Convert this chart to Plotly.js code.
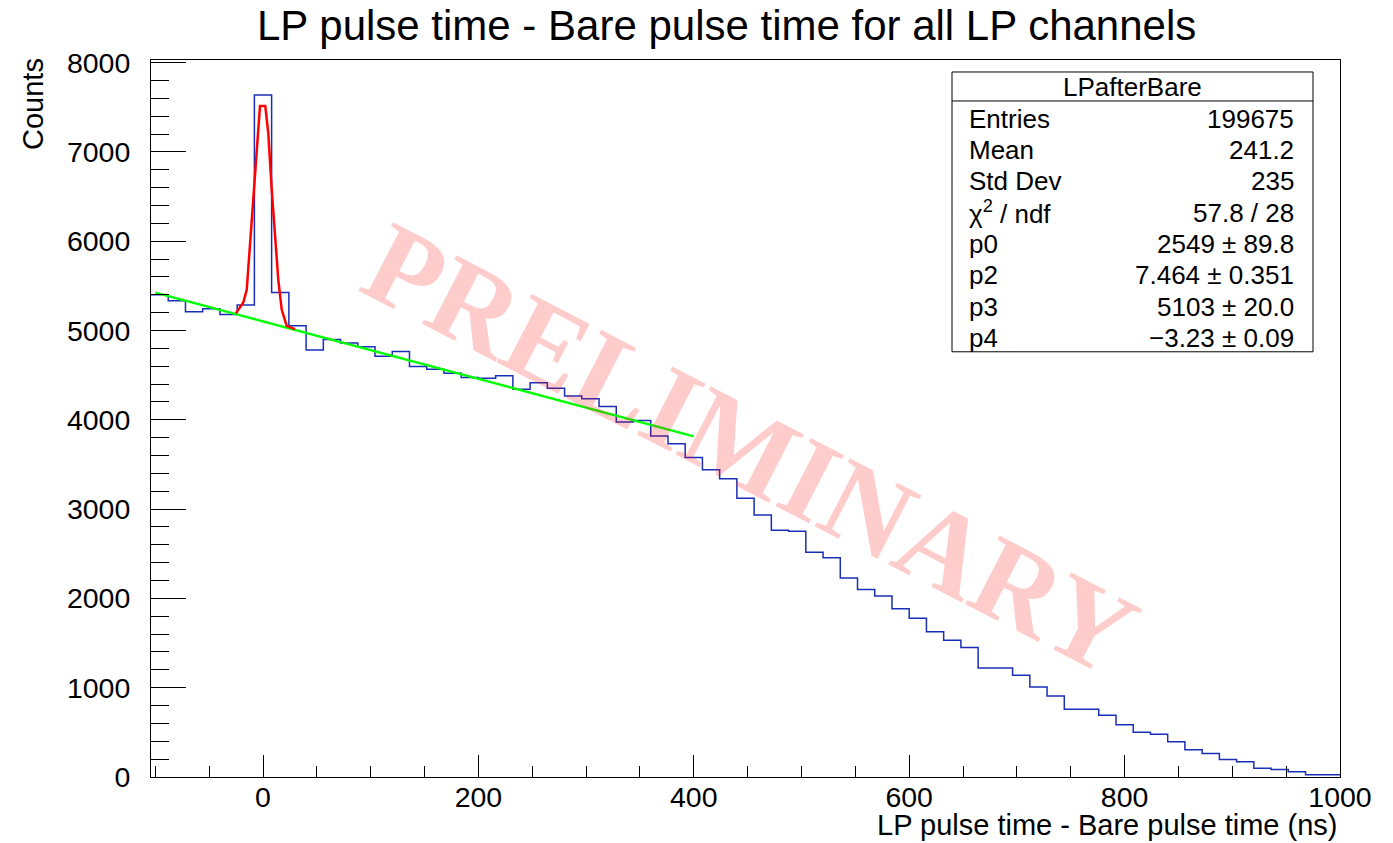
<!DOCTYPE html>
<html>
<head>
<meta charset="utf-8">
<script src="https://cdn.plot.ly/plotly-3.0.1.min.js"></script>
<style>html,body{margin:0;padding:0;background:#fff;}#chart{width:1393px;height:843px;}</style>
</head>
<body>
<div id="chart"></div>
<script>
// ---- histogram definition (ROOT TH1: 69 bins from -104 to 1000 ns) ----
const nBins = 69;
const xMin = -104;
const xMax = 1000;
const counts = [
  5400, 5333, 5210, 5243, 5181, 5285, 7639, 5426, 5055, 4782,
  4901, 4860, 4819, 4712, 4766, 4596, 4566, 4522, 4473, 4466,
  4495, 4343, 4416, 4354, 4266, 4235, 4149, 3975, 3993, 3818,
  3732, 3579, 3441, 3341, 3121, 2935, 2763, 2752, 2517, 2455,
  2229, 2101, 2026, 1885, 1777, 1628, 1531, 1449, 1221, 1221,
  1140, 1009, 908, 760, 760, 692, 584, 501, 479, 394,
  304, 263, 196, 170, 98, 84, 58, 25, 25
];

// ---- fit curves ----
const gausFitX = [-25.1, -18.3, -15.1, -12.1, -9.0, -5.8, -2.8, 2.1, 4.9, 8.1, 11.1, 14.2, 17.4, 22.0, 29.7];
const gausFitY = [5195, 5314, 5456, 5941, 6538, 7060, 7515, 7515, 7210, 6575, 6053, 5568, 5232, 5053, 5016];
const bkgFitX = [-100, 400];
const bkgFitY = [5425, 3815];

// ---- texts ----
const chartTitle = "LP pulse time - Bare pulse time for all LP channels";
const xTitle = "LP pulse time - Bare pulse time (ns)";
const yTitle = "Counts";
const statsName = "LPafterBare";
const statLabels = ["Entries", "Mean", "Std Dev", "χ<sup>2</sup> / ndf", "p0", "p2", "p3", "p4"];
const statValues = ["199675", "241.2", "235", "57.8 / 28", "2549 ± 89.8", "7.464 ± 0.351", "5103 ± 20.0", "−3.23 ± 0.09"];
const watermark = "PRELIMINARY";

// ---- layout geometry (pixels) ----
const W = 1393, H = 843;
const L = 151, R = 1340, T = 60, B = 777.5;
const px2x = p => (p - L) / (R - L);
const py2y = p => (B - p) / (B - T);

// histogram outline (step)
const binW = (xMax - xMin) / nBins;
const edges = [];
for (let i = 0; i <= nBins; i++) edges.push(xMin + i * binW);
const stepY = counts.concat([counts[counts.length - 1]]);

const traces = [
  {x: edges, y: stepY, type: 'scatter', mode: 'lines', line: {shape: 'hv', color: '#1a2fb8', width: 1.5}, hoverinfo: 'skip'},
  {x: bkgFitX, y: bkgFitY, type: 'scatter', mode: 'lines', line: {color: '#00ff00', width: 2.5}, hoverinfo: 'skip'},
  {x: gausFitX, y: gausFitY, type: 'scatter', mode: 'lines', line: {color: '#ff0000', width: 2.5}, hoverinfo: 'skip'}
];

const fontFam = 'Liberation Sans, Arial, sans-serif';
const annotations = [];
annotations.push({text: chartTitle, xref: 'paper', yref: 'paper', x: px2x(726.5), y: py2y(25), xanchor: 'center', yanchor: 'middle', showarrow: false, font: {family: fontFam, size: 42, color: '#000'}});
annotations.push({text: xTitle, xref: 'paper', yref: 'paper', x: px2x(1339), y: py2y(826), xanchor: 'right', yanchor: 'middle', showarrow: false, font: {family: fontFam, size: 29, color: '#000'}});
annotations.push({text: yTitle, xref: 'paper', yref: 'paper', x: px2x(33), y: py2y(104), xanchor: 'center', yanchor: 'middle', textangle: -90, showarrow: false, font: {family: fontFam, size: 29, color: '#000'}});

// stats box
const boxL = 952, boxR = 1313, boxT = 72, boxSep = 101, boxB = 352;
annotations.push({text: statsName, xref: 'paper', yref: 'paper', x: px2x((boxL + boxR) / 2), y: py2y(87), xanchor: 'center', yanchor: 'middle', showarrow: false, font: {family: fontFam, size: 26, color: '#000'}});
const rowH = (boxB - boxSep) / statLabels.length;
for (let i = 0; i < statLabels.length; i++) {
  const cy = boxSep + 2 + rowH * (i + 0.5);
  annotations.push({text: statLabels[i], xref: 'paper', yref: 'paper', x: px2x(967), y: py2y(cy), xanchor: 'left', yanchor: 'middle', showarrow: false, font: {family: fontFam, size: 26, color: '#000'}});
  annotations.push({text: statValues[i], xref: 'paper', yref: 'paper', x: px2x(1296), y: py2y(cy), xanchor: 'right', yanchor: 'middle', showarrow: false, font: {family: fontFam, size: 26, color: '#000'}});
}

// watermark
annotations.push({text: '<b>' + watermark + '</b>', xref: 'paper', yref: 'paper', x: px2x(750), y: py2y(449), xanchor: 'center', yanchor: 'middle', textangle: 27.3, showarrow: false, font: {family: 'Liberation Serif, Times New Roman, serif', size: 117, color: 'rgba(255,0,0,0.2)'}});

const shapes = [
  {type: 'rect', xref: 'paper', yref: 'paper', x0: px2x(boxL), x1: px2x(boxR), y0: py2y(boxB), y1: py2y(boxT), line: {color: '#000', width: 1}, fillcolor: 'rgba(255,255,255,1)', layer: 'above'},
  {type: 'line', xref: 'paper', yref: 'paper', x0: px2x(boxL), x1: px2x(boxR), y0: py2y(boxSep), y1: py2y(boxSep), line: {color: '#000', width: 1}, layer: 'above'}
];

const layout = {
  width: W, height: H,
  margin: {l: L, r: W - R, t: T, b: H - B, pad: 0},
  paper_bgcolor: '#fff', plot_bgcolor: '#fff',
  showlegend: false,
  xaxis: {
    range: [xMin, xMax], autorange: false, showgrid: false, zeroline: false,
    showline: true, mirror: true, linecolor: '#000', linewidth: 1,
    ticks: 'inside', ticklen: 22, tickwidth: 1, tickcolor: '#000',
    tick0: 0, dtick: 200, ticklabelstandoff: -5,
    tickfont: {family: fontFam, size: 28.5, color: '#000'},
    minor: {dtick: 50, tick0: 0, ticks: 'inside', ticklen: 11, tickwidth: 1, tickcolor: '#000', showgrid: false}
  },
  yaxis: {
    range: [0, 8030], autorange: false, showgrid: false, zeroline: false,
    showline: true, mirror: true, linecolor: '#000', linewidth: 1,
    ticks: 'inside', ticklen: 35, tickwidth: 1, tickcolor: '#000',
    tick0: 0, dtick: 1000, ticklabelstandoff: 14,
    tickfont: {family: fontFam, size: 28.5, color: '#000'},
    minor: {dtick: 200, tick0: 0, ticks: 'inside', ticklen: 17.5, tickwidth: 1, tickcolor: '#000', showgrid: false}
  },
  annotations: annotations,
  shapes: shapes
};

Plotly.newPlot('chart', traces, layout, {staticPlot: true, displayModeBar: false});
</script>
</body>
</html>
